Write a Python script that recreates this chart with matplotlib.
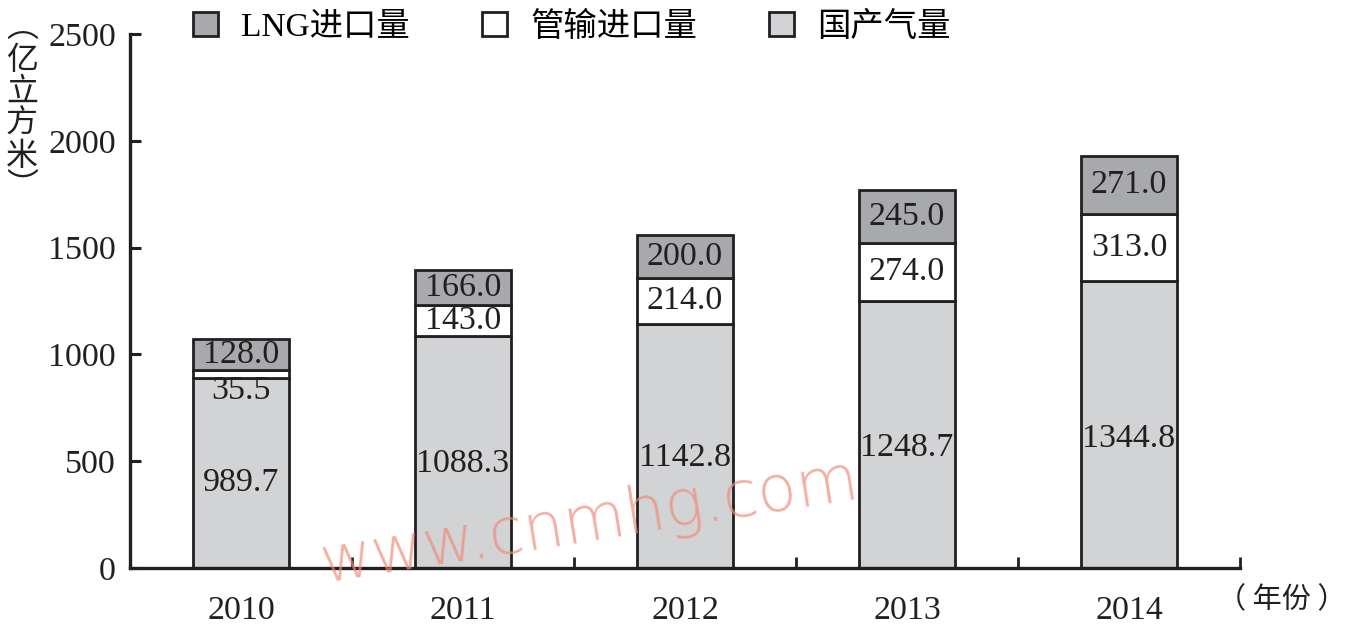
import matplotlib.pyplot as plt
from matplotlib.patches import Patch
import numpy as np

# -----------------------------
# Data
# -----------------------------
years = ["2010", "2011", "2012", "2013", "2014"]

# bar heights as drawn
domestic = [891, 1088.3, 1142.8, 1248.7, 1344.8]
pipeline = [38, 143.0, 214.0, 274.0, 313.0]
lng = [142, 166.0, 200.0, 245.0, 271.0]

# printed labels
domestic_lbl = ["989.7", "1088.3", "1142.8", "1248.7", "1344.8"]
pipeline_lbl = ["35.5", "143.0", "214.0", "274.0", "313.0"]
lng_lbl = ["128.0", "166.0", "200.0", "245.0", "271.0"]

series_names = ["LNG进口量", "管输进口量", "国产气量"]

# -----------------------------
# Style
# -----------------------------
plt.rcParams['font.family'] = ['Liberation Serif', 'Noto Sans CJK SC']
EDGE = "#231f20"
C_DOM = "#d1d3d4"
C_PIPE = "#ffffff"
C_LNG = "#a7a9ac"
FS = 24.5

fig = plt.figure(figsize=(13.45, 6.29), dpi=100)
ax = fig.add_axes([130 / 1345, 1 - 568 / 629, 1110 / 1345, 534 / 629])

x = np.arange(len(years))
w = 0.43
dom = np.array(domestic)
pipe = np.array(pipeline)
lg = np.array(lng)

ax.bar(x, dom, w, color=C_DOM, edgecolor=EDGE, linewidth=2, zorder=2)
ax.bar(x, pipe, w, bottom=dom, color=C_PIPE, edgecolor=EDGE, linewidth=2, zorder=2)
ax.bar(x, lg, w, bottom=dom + pipe, color=C_LNG, edgecolor=EDGE, linewidth=2, zorder=2)

# value labels
for i in range(len(years)):
    ax.text(x[i], dom[i] * 0.45, domestic_lbl[i], ha="center", va="center",
            fontsize=FS, color=EDGE, zorder=3)
    if pipe[i] < 80:
        ax.text(x[i], dom[i] + 12, pipeline_lbl[i], ha="center", va="top",
                fontsize=FS, color=EDGE, zorder=3)
    else:
        ax.text(x[i], dom[i] + pipe[i] / 2, pipeline_lbl[i], ha="center",
                va="center", fontsize=FS, color=EDGE, zorder=3)
    ax.text(x[i], dom[i] + pipe[i] + lg[i] / 2, lng_lbl[i], ha="center",
            va="center", fontsize=FS, color=EDGE, zorder=3)

# axes
ax.set_xlim(-0.5, 4.5)
ax.set_ylim(0, 2500)
ax.set_yticks([0, 500, 1000, 1500, 2000, 2500])
ax.set_xticks(x)
ax.set_xticklabels(years)
ax.set_xticks(np.arange(0.5, 5.0, 1.0), minor=True)
ax.tick_params(axis="x", which="major", length=0, pad=20, labelsize=FS, colors=EDGE)
ax.tick_params(axis="x", which="minor", direction="in", length=8, width=2, color=EDGE)
ax.tick_params(axis="y", direction="in", length=8, width=2.2, pad=10,
               labelsize=FS, colors=EDGE)
for s in ["top", "right"]:
    ax.spines[s].set_visible(False)
for s in ["left", "bottom"]:
    ax.spines[s].set_linewidth(2.4)
    ax.spines[s].set_color(EDGE)

# axis titles
fig.text(22 / 1345, 1 - 108 / 629, "︵\n亿\n立\n方\n米\n︶", ha="center", va="center",
         fontsize=23, family="Noto Sans CJK SC", linespacing=1.0, color=EDGE)
fig.text(1282 / 1345, 1 - 600 / 629, "（ 年份 ）", ha="center", va="center",
         fontsize=21, family="Noto Sans CJK SC", color=EDGE)

# legend
handles = [Patch(facecolor=C_LNG, edgecolor=EDGE, linewidth=2),
           Patch(facecolor=C_PIPE, edgecolor=EDGE, linewidth=2),
           Patch(facecolor=C_DOM, edgecolor=EDGE, linewidth=2)]
leg = fig.legend(handles, series_names, loc="center left", ncol=3, frameon=False,
                 bbox_to_anchor=(193 / 1345, 1 - 27 / 629), handlelength=0.75,
                 handleheight=0.75, handletextpad=0.7, columnspacing=2.15,
                 prop={"family": ["Liberation Serif", "Noto Sans CJK SC"], "size": 24},
                 borderaxespad=0, borderpad=0)

# watermark
fig.text(590 / 1345, 1 - 522 / 629, "www.cnmhg.com", ha="center", va="center",
         rotation=9, fontsize=46, family="DejaVu Sans", fontweight="light",
         color="#f08a78", alpha=0.7)

fig.savefig("out.png", dpi=100)
